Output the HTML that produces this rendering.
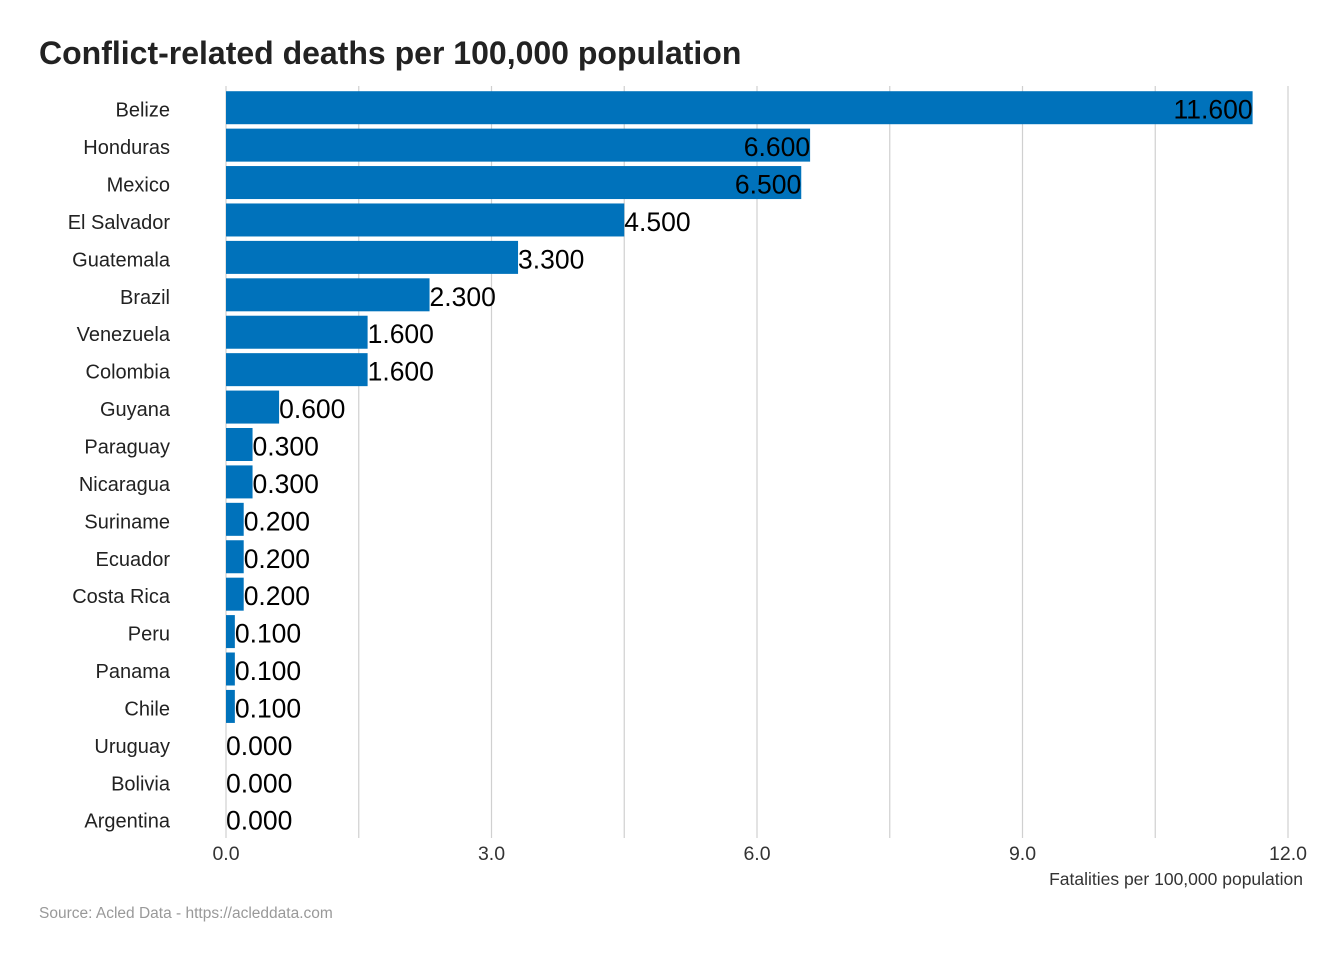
<!DOCTYPE html>
<html><head><meta charset="utf-8"><style>
html,body{margin:0;padding:0;background:#fff;}
svg{display:block;font-family:"Liberation Sans",Arial,sans-serif;}
</style></head><body>
<svg id="chart" width="1344" height="960">
<text x="39" y="64" font-size="32" font-weight="bold" fill="#222">Conflict-related deaths per 100,000 population</text>
<g id="grid"></g><g id="bars"></g><g id="labels"></g><g id="ticks"></g>
<text x="1303" y="885" font-size="17.5" fill="#333" text-anchor="end">Fatalities per 100,000 population</text>
<text x="39" y="918" font-size="15.5" fill="#999">Source: Acled Data - https://acleddata.com</text>
</svg>
<script>
const categories=["Belize","Honduras","Mexico","El Salvador","Guatemala","Brazil","Venezuela","Colombia","Guyana","Paraguay","Nicaragua","Suriname","Ecuador","Costa Rica","Peru","Panama","Chile","Uruguay","Bolivia","Argentina"];
const values=[11.6,6.6,6.5,4.5,3.3,2.3,1.6,1.6,0.6,0.3,0.3,0.2,0.2,0.2,0.1,0.1,0.1,0,0,0];
const tickValues=[0,3,6,9,12];
const gridValues=[0,1.5,3,4.5,6,7.5,9,10.5,12];
const xMax=12;
const NS="http://www.w3.org/2000/svg";
const x0=226,x1=1288,yTop=89,step=37.42,barH=33;
const xs=v=>x0+(v/xMax)*(x1-x0);
const yc=i=>yTop+step*i+step/2;
function mk(t,a,p){const e=document.createElementNS(NS,t);for(const k in a)e.setAttribute(k,a[k]);p.appendChild(e);return e;}
const grid=document.getElementById('grid'),bars=document.getElementById('bars'),labels=document.getElementById('labels'),ticks=document.getElementById('ticks');
gridValues.forEach(v=>{
 const l=mk('line',{x1:xs(v),x2:xs(v),y1:86,y2:838,stroke:'#d0d0d0','stroke-width':1.2},grid);
 
 
});
tickValues.forEach(v=>{
 const t=mk('text',{x:xs(v),y:860,'font-size':19.5,fill:'#333','text-anchor':'middle'},ticks);
 t.textContent=v.toFixed(1);
 
 
});
categories.forEach((c,i)=>{
 const cy=yc(i);
 const t=mk('text',{x:170,y:cy+9,'font-size':20,fill:'#222','text-anchor':'end'},labels);
 t.textContent=c;
 
 
 const w=xs(values[i])-x0;
 const r=mk('rect',{x:x0,y:cy-barH/2,width:Math.max(w,0),height:barH,fill:'#0072bb'},bars);
 
 
 const inside=values[i]>xMax/2;
 const v=mk('text',{x:xs(values[i]),y:cy+11,'font-size':26.5,fill:'#000','text-anchor':inside?'end':'start'},bars);
 v.textContent=values[i].toFixed(3);
 
 
});
</script>
</body></html>
